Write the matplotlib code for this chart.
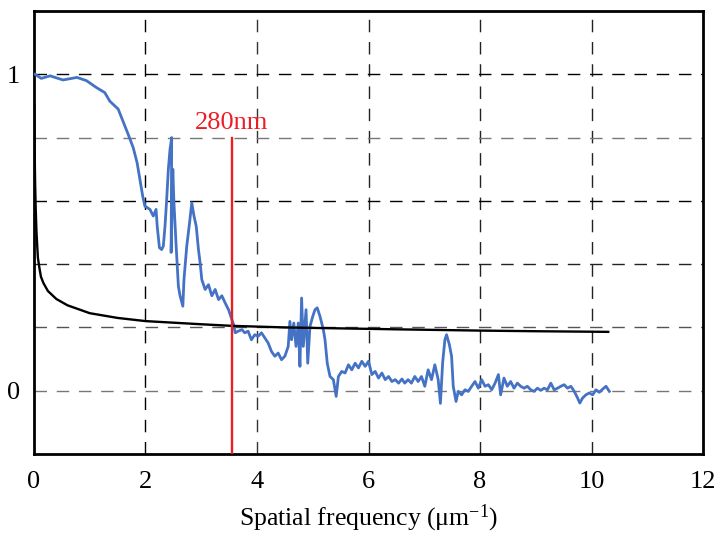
import matplotlib.pyplot as plt

plt.rcParams["font.family"] = ["Liberation Serif", "DejaVu Serif"]
plt.rcParams["mathtext.fontset"] = "custom"
plt.rcParams["mathtext.rm"] = "Liberation Serif"

freq = [0.02, 0.13, 0.29, 0.52, 0.77, 0.94, 1.12, 1.27, 1.36, 1.51, 1.60, 1.69,
        1.78, 1.85, 1.90, 1.95, 1.99, 2.02, 2.08, 2.14, 2.19, 2.21, 2.25, 2.29,
        2.32, 2.35, 2.38, 2.41, 2.44, 2.47, 2.46, 2.49, 2.51, 2.55, 2.59, 2.62,
        2.67, 2.69, 2.74, 2.79, 2.83, 2.87, 2.91, 2.95, 2.98, 3.01, 3.07, 3.13,
        3.19, 3.25, 3.31, 3.37, 3.43, 3.49, 3.55, 3.58, 3.61, 3.66, 3.73, 3.78,
        3.84, 3.90, 3.96, 4.02, 4.08, 4.14, 4.20, 4.26, 4.32, 4.38, 4.44, 4.50,
        4.56, 4.59, 4.62, 4.66, 4.70, 4.74, 4.77, 4.80, 4.83, 4.88, 4.91, 4.95,
        5.00, 5.04, 5.08, 5.13, 5.19, 5.22, 5.26, 5.31, 5.37, 5.42, 5.46, 5.52,
        5.58, 5.64, 5.70, 5.76, 5.82, 5.88, 5.94, 6.00, 6.06, 6.12, 6.18, 6.24,
        6.30, 6.36, 6.42, 6.48, 6.54, 6.60, 6.65, 6.71, 6.77, 6.83, 6.89, 6.95,
        7.01, 7.07, 7.13, 7.19, 7.25, 7.29, 7.33, 7.37, 7.40, 7.45, 7.49, 7.52,
        7.57, 7.61, 7.67, 7.73, 7.79, 7.85, 7.91, 7.97, 8.03, 8.09, 8.15, 8.21,
        8.27, 8.33, 8.37, 8.43, 8.49, 8.55, 8.61, 8.67, 8.73, 8.79, 8.85, 8.91,
        8.97, 9.03, 9.09, 9.15, 9.21, 9.27, 9.33, 9.39, 9.45, 9.51, 9.57, 9.63,
        9.69, 9.75, 9.79, 9.84, 9.90, 9.96, 10.02, 10.08, 10.14, 10.20, 10.26, 10.32]
mtf = [1.0, 0.987, 0.995, 0.982, 0.99, 0.98, 0.958, 0.942, 0.915, 0.89, 0.85, 0.81,
       0.768, 0.72, 0.668, 0.615, 0.583, 0.58, 0.573, 0.552, 0.573, 0.52, 0.452, 0.446,
       0.457, 0.52, 0.604, 0.70, 0.763, 0.80, 0.437, 0.70, 0.595, 0.457, 0.33, 0.30,
       0.267, 0.351, 0.457, 0.53, 0.594, 0.552, 0.52, 0.446, 0.404, 0.351, 0.32, 0.335,
       0.30, 0.32, 0.288, 0.30, 0.277, 0.256, 0.225, 0.209, 0.183, 0.188, 0.193, 0.183,
       0.188, 0.161, 0.177, 0.172, 0.183, 0.167, 0.151, 0.124, 0.109, 0.119, 0.098, 0.109,
       0.14, 0.219, 0.161, 0.214, 0.14, 0.214, 0.077, 0.293, 0.14, 0.256, 0.087, 0.203,
       0.235, 0.256, 0.262, 0.235, 0.193, 0.161, 0.087, 0.045, 0.035, -0.018, 0.045, 0.061,
       0.056, 0.082, 0.066, 0.087, 0.072, 0.093, 0.077, 0.093, 0.051, 0.061, 0.04, 0.056,
       0.035, 0.045, 0.029, 0.035, 0.024, 0.037, 0.024, 0.035, 0.024, 0.045, 0.029, 0.045,
       0.014, 0.066, 0.035, 0.082, 0.035, -0.04, 0.089, 0.161, 0.177, 0.146, 0.109, 0.014,
       -0.034, -0.002, -0.013, 0.003, -0.002, 0.014, 0.029, 0.008, 0.035, 0.014, 0.019, 0.003,
       0.024, 0.051, -0.013, 0.04, 0.014, 0.029, 0.008, 0.024, 0.014, 0.008, 0.014, 0.003,
       -0.002, 0.008, 0.001, 0.008, 0.003, 0.024, 0.003, 0.008, 0.014, 0.019, 0.008, 0.014,
       -0.002, -0.023, -0.039, -0.023, -0.013, -0.007, -0.013, 0.003, -0.005, 0.005, 0.014, -0.002]

# threshold curve (black)
thr_x = [0.003, 0.01, 0.02, 0.03, 0.045, 0.07, 0.1, 0.125, 0.17, 0.25, 0.4, 0.6,
         1.0, 1.5, 2.0, 2.5, 3.0, 3.55, 4.5, 5.5, 6.5, 8.0, 9.0, 10.3]
thr_y = [0.9, 0.78, 0.66, 0.58, 0.5, 0.42, 0.385, 0.36, 0.34, 0.315, 0.29, 0.27,
         0.245, 0.23, 0.22, 0.215, 0.21, 0.205, 0.2, 0.197, 0.194, 0.19, 0.188, 0.186]

cutoff = 3.55
cutoff_label = "280nm"

fig = plt.figure(figsize=(7.17, 5.33), dpi=100)
ax = fig.add_axes([0.0474, 0.1482, 0.9331, 0.8312])

# grid drawn by hand, alternating dark / grey dashes like the original
for v, c in [(2, "black"), (4, "#333333"), (6, "#222222"), (8, "#222222"), (10, "#222222")]:
    ax.axvline(v, color=c, lw=1.0, dashes=(9, 7), zorder=1)
for h, c in [(1.0, "black"), (0.8, "#777777"), (0.6, "black"), (0.4, "#222222"),
             (0.2, "#555555"), (0.0, "#777777")]:
    ax.axhline(h, color=c, lw=1.0, dashes=(9, 7), zorder=1)

ax.plot(freq, mtf, color="#4472c4", lw=2.0, zorder=3)
ax.plot(thr_x, thr_y, color="black", lw=1.7, zorder=4)
ax.plot([cutoff, cutoff], [-0.2, 0.8], color="#ee1c25", lw=1.7, zorder=5)
ax.text(cutoff, 0.81, cutoff_label, color="#ee1c25", fontsize=19,
        ha="center", va="bottom")

ax.set_xlim(0, 12)
ax.set_ylim(-0.2, 1.2)
ax.set_xticks(range(0, 13, 2))
ax.set_yticks([0, 1])
ax.tick_params(length=0, labelsize=19, pad=12)
ax.tick_params(axis="y", pad=10)
for s in ax.spines.values():
    s.set_linewidth(2)
ax.set_xlabel("Spatial frequency (μm$\\mathregular{^{-1}}$)", fontsize=18.5, labelpad=7)

plt.savefig("out.png", dpi=100)
